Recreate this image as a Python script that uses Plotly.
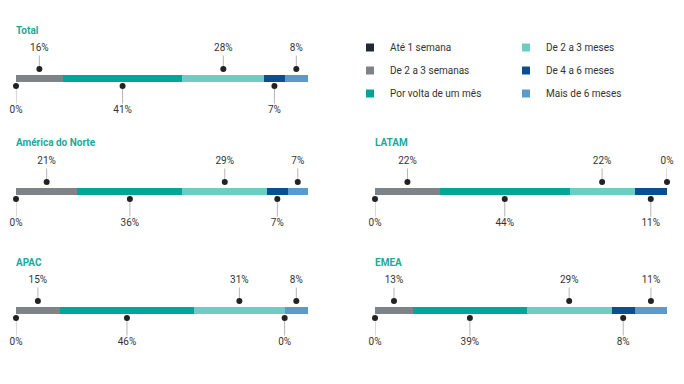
import plotly.graph_objects as go

categories = ["Até 1 semana", "De 2 a 3 semanas", "Por volta de um mês",
              "De 2 a 3 meses", "De 4 a 6 meses", "Mais de 6 meses"]
regions = ["Total", "América do Norte", "LATAM", "APAC", "EMEA"]
total = [0, 16, 41, 28, 7, 8]
america_do_norte = [0, 21, 36, 29, 7, 7]
latam = [0, 22, 44, 22, 11, 0]
apac = [0, 15, 46, 31, 0, 8]
emea = [0, 13, 39, 29, 8, 11]
series = [total, america_do_norte, latam, apac, emea]

colors = ["#1f2a38", "#7d8387", "#00a597", "#6dcdc3", "#0b4f91", "#5b9bcc"]
title_color = "#1aaa9c"
text_color = "#333333"
dot_color = "#222222"
line_color = "#b5b5b5"
FONT = "Roboto"

W, H = 684, 384
# panel placement: (left px, bar centre px)
panels = [(16, 77.5), (16, 190.5), (375, 190.5), (16, 309.5), (375, 309.5)]
BAR_W = 292
HALF = 40  # half height of each panel in px (1 y unit = 1 px)

fig = go.Figure()
layout = {}
annotations = []

for i, (vals, name, (px, cy)) in enumerate(zip(series, regions, panels)):
    k = "" if i == 0 else str(i + 1)
    xa, ya = "x" + k, "y" + k
    s = sum(vals)
    layout["xaxis" + k] = dict(domain=[px / W, (px + BAR_W) / W], range=[0, s],
                               visible=False, fixedrange=True, anchor=ya)
    layout["yaxis" + k] = dict(domain=[1 - (cy + HALF) / H, 1 - (cy - HALF) / H],
                               range=[-HALF, HALF], visible=False, fixedrange=True, anchor=xa)
    # stacked bar segments
    for j, (cat, v) in enumerate(zip(categories, vals)):
        fig.add_trace(go.Bar(x=[v], y=[0], orientation="h", width=7,
                             marker=dict(color=colors[j], line=dict(width=0)),
                             name=cat, showlegend=False, xaxis=xa, yaxis=ya,
                             hovertemplate=f"{name}<br>{cat}: {v}%<extra></extra>"))
    # callouts
    centres = []
    acc = 0
    for v in vals:
        centres.append(acc + v / 2)
        acc += v
    up = [1, 3, 5]
    down = [0, 2, 4]
    lx, ly = [], []
    for j in up:
        lx += [centres[j], centres[j], None]
        ly += [8, 22, None]
    for j in down:
        lx += [centres[j], centres[j], None]
        ly += [-8, -26, None]
    fig.add_trace(go.Scatter(x=lx, y=ly, mode="lines", line=dict(color=line_color, width=1),
                             showlegend=False, hoverinfo="skip", xaxis=xa, yaxis=ya,
                             cliponaxis=False))
    dx = [centres[j] for j in up] + [centres[j] for j in down]
    dy = [8.5] * 3 + [-8.5] * 3
    fig.add_trace(go.Scatter(x=dx, y=dy, mode="markers",
                             marker=dict(color=dot_color, size=6),
                             showlegend=False, hoverinfo="skip", xaxis=xa, yaxis=ya,
                             cliponaxis=False))
    ty = [29] * 3 + [-33] * 3
    tt = [f"{vals[j]}%" for j in up] + [f"{vals[j]}%" for j in down]
    fig.add_trace(go.Scatter(x=dx, y=ty, mode="text", text=tt,
                             textfont=dict(family=FONT, size=10, color=text_color),
                             textposition="middle center", cliponaxis=False,
                             showlegend=False, hoverinfo="skip", xaxis=xa, yaxis=ya))
    annotations.append(dict(text=f"<b>{name}</b>", x=px / W, y=1 - (cy - 47.5) / H,
                            xref="paper", yref="paper", xanchor="left", yanchor="middle",
                            showarrow=False, xshift=-2,
                            font=dict(family=FONT, size=10, color=title_color)))

# legend entries (two columns)
for j, cat in enumerate(categories):
    fig.add_trace(go.Scatter(x=[None], y=[None], mode="markers", name=cat,
                             marker=dict(symbol="square", size=8, color=colors[j]),
                             legend="legend" if j < 3 else "legend2",
                             legendgroup=cat, showlegend=True, hoverinfo="skip"))

leg_common = dict(font=dict(family=FONT, size=10, color=text_color), bgcolor="rgba(0,0,0,0)",
                  xanchor="left", yanchor="top", tracegroupgap=4, itemwidth=30,
                  traceorder="grouped")
layout["legend"] = dict(x=350 / W, y=1 - 33 / H, **leg_common)
layout["legend2"] = dict(x=506 / W, y=1 - 33 / H, **leg_common)

fig.update_layout(**layout)
fig.update_layout(width=W, height=H, margin=dict(l=0, r=0, t=0, b=0),
                  paper_bgcolor="white", plot_bgcolor="white", barmode="stack",
                  bargap=0, annotations=annotations,
                  font=dict(family=FONT, size=10, color=text_color))
fig.write_html("out.html", config={"displayModeBar": False},
               post_script="document.body.style.margin='0';document.body.style.padding='0';")
